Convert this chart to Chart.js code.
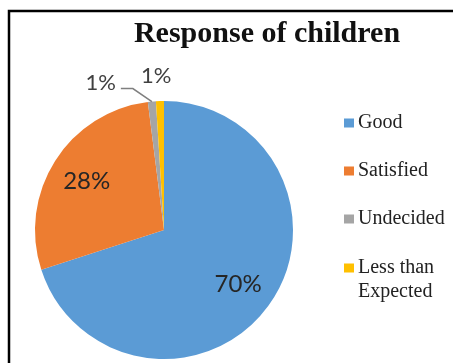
<!DOCTYPE html>
<html>
<head>
<meta charset="utf-8">
<script src="https://cdn.jsdelivr.net/npm/chart.js@4.4.1/dist/chart.umd.min.js"></script>
<style>
    html, body { margin: 0; padding: 0; background: #fff; }
    #wrap { width: 453px; height: 363px; position: relative; }
</style>
</head>
<body>
<div id="wrap"><canvas id="pieChart"></canvas></div>
<script>
// Survey answers and their share in percent
const categories = ['Good', 'Satisfied', 'Undecided', 'Less than Expected'];
const legendLines = [['Good'], ['Satisfied'], ['Undecided'], ['Less than', 'Expected']];
const shares = [70, 28, 1, 1];
const sliceColors = ['#5b9bd5', '#ed7d31', '#a5a5a5', '#ffc000'];
const chartTitle = 'Response of children';

// Frame, title, slice labels and legend drawn around the pie
const decorPlugin = {
    id: 'decor',
    beforeDraw(chart) {
        const ctx = chart.ctx;
        ctx.save();
        ctx.fillStyle = '#fff';
        ctx.fillRect(0, 0, chart.width, chart.height);
        ctx.restore();
    },
    afterDraw(chart) {
        const ctx = chart.ctx;
        const meta = chart.getDatasetMeta(0);
        ctx.save();

        // frame (only top and left edges are inside the view)
        ctx.strokeStyle = '#000';
        ctx.lineWidth = 2.5;
        ctx.beginPath();
        ctx.moveTo(chart.width, 11);
        ctx.lineTo(9, 11);
        ctx.lineTo(9, chart.height);
        ctx.stroke();

        // title
        ctx.fillStyle = '#111';
        ctx.font = 'bold 30px "Liberation Serif", "Times New Roman", serif';
        ctx.textAlign = 'center';
        ctx.textBaseline = 'middle';
        ctx.fillText(chartTitle, 267, 34);

        // percentage labels
        meta.data.forEach((arc, i) => {
            const p = arc.getProps(['x', 'y', 'startAngle', 'endAngle', 'outerRadius'], true);
            const mid = (p.startAngle + p.endAngle) / 2;
            const text = shares[i] + '%';
            ctx.textAlign = 'center';
            ctx.textBaseline = 'middle';
            if (shares[i] >= 5) {
                const r = p.outerRadius * 0.71;
                ctx.fillStyle = '#262626';
                ctx.font = '24px Lato, "Liberation Sans", sans-serif';
                ctx.fillText(text, p.x + r * Math.cos(mid), p.y + r * Math.sin(mid));
            } else if (i === 2) {
                // small slice pushed aside with a leader line
                const ax = p.x + p.outerRadius * Math.cos(mid);
                const ay = p.y + p.outerRadius * Math.sin(mid);
                const ex = ax - 19, ey = ay - 13;
                ctx.strokeStyle = '#7f7f7f';
                ctx.lineWidth = 1.5;
                ctx.beginPath();
                ctx.moveTo(ax, ay);
                ctx.lineTo(ex, ey);
                ctx.lineTo(ex - 12, ey);
                ctx.stroke();
                ctx.fillStyle = '#404040';
                ctx.font = '22px Lato, "Liberation Sans", sans-serif';
                ctx.textAlign = 'right';
                ctx.fillText(text, ex - 17, ey - 6);
            } else {
                const r = p.outerRadius + 25;
                ctx.fillStyle = '#404040';
                ctx.font = '22px Lato, "Liberation Sans", sans-serif';
                ctx.fillText(text, p.x + r * Math.cos(mid) - 3, p.y + r * Math.sin(mid));
            }
        });

        // legend
        const lx = 344, rowY = [123, 171, 219, 268];
        ctx.font = '20px "Liberation Serif", "Times New Roman", serif';
        ctx.textAlign = 'left';
        ctx.textBaseline = 'middle';
        legendLines.forEach((lines, i) => {
            ctx.fillStyle = sliceColors[i];
            ctx.fillRect(lx, rowY[i] - 4.5, 10, 9);
            ctx.fillStyle = '#222';
            lines.forEach((line, j) => {
                ctx.fillText(line, lx + 14, rowY[i] + j * 24);
            });
        });
        ctx.restore();
    }
};

new Chart(document.getElementById('pieChart'), {
    type: 'pie',
    data: {
        labels: categories,
        datasets: [{
            data: shares,
            backgroundColor: sliceColors,
            borderWidth: 0
        }]
    },
    options: {
        responsive: true,
        maintainAspectRatio: false,
        animation: false,
        layout: {
            padding: { top: 101, bottom: 4, left: 35, right: 160 }
        },
        plugins: {
            legend: { display: false },
            title: { display: false },
            tooltip: { enabled: false }
        }
    },
    plugins: [decorPlugin]
});
</script>
</body>
</html>
